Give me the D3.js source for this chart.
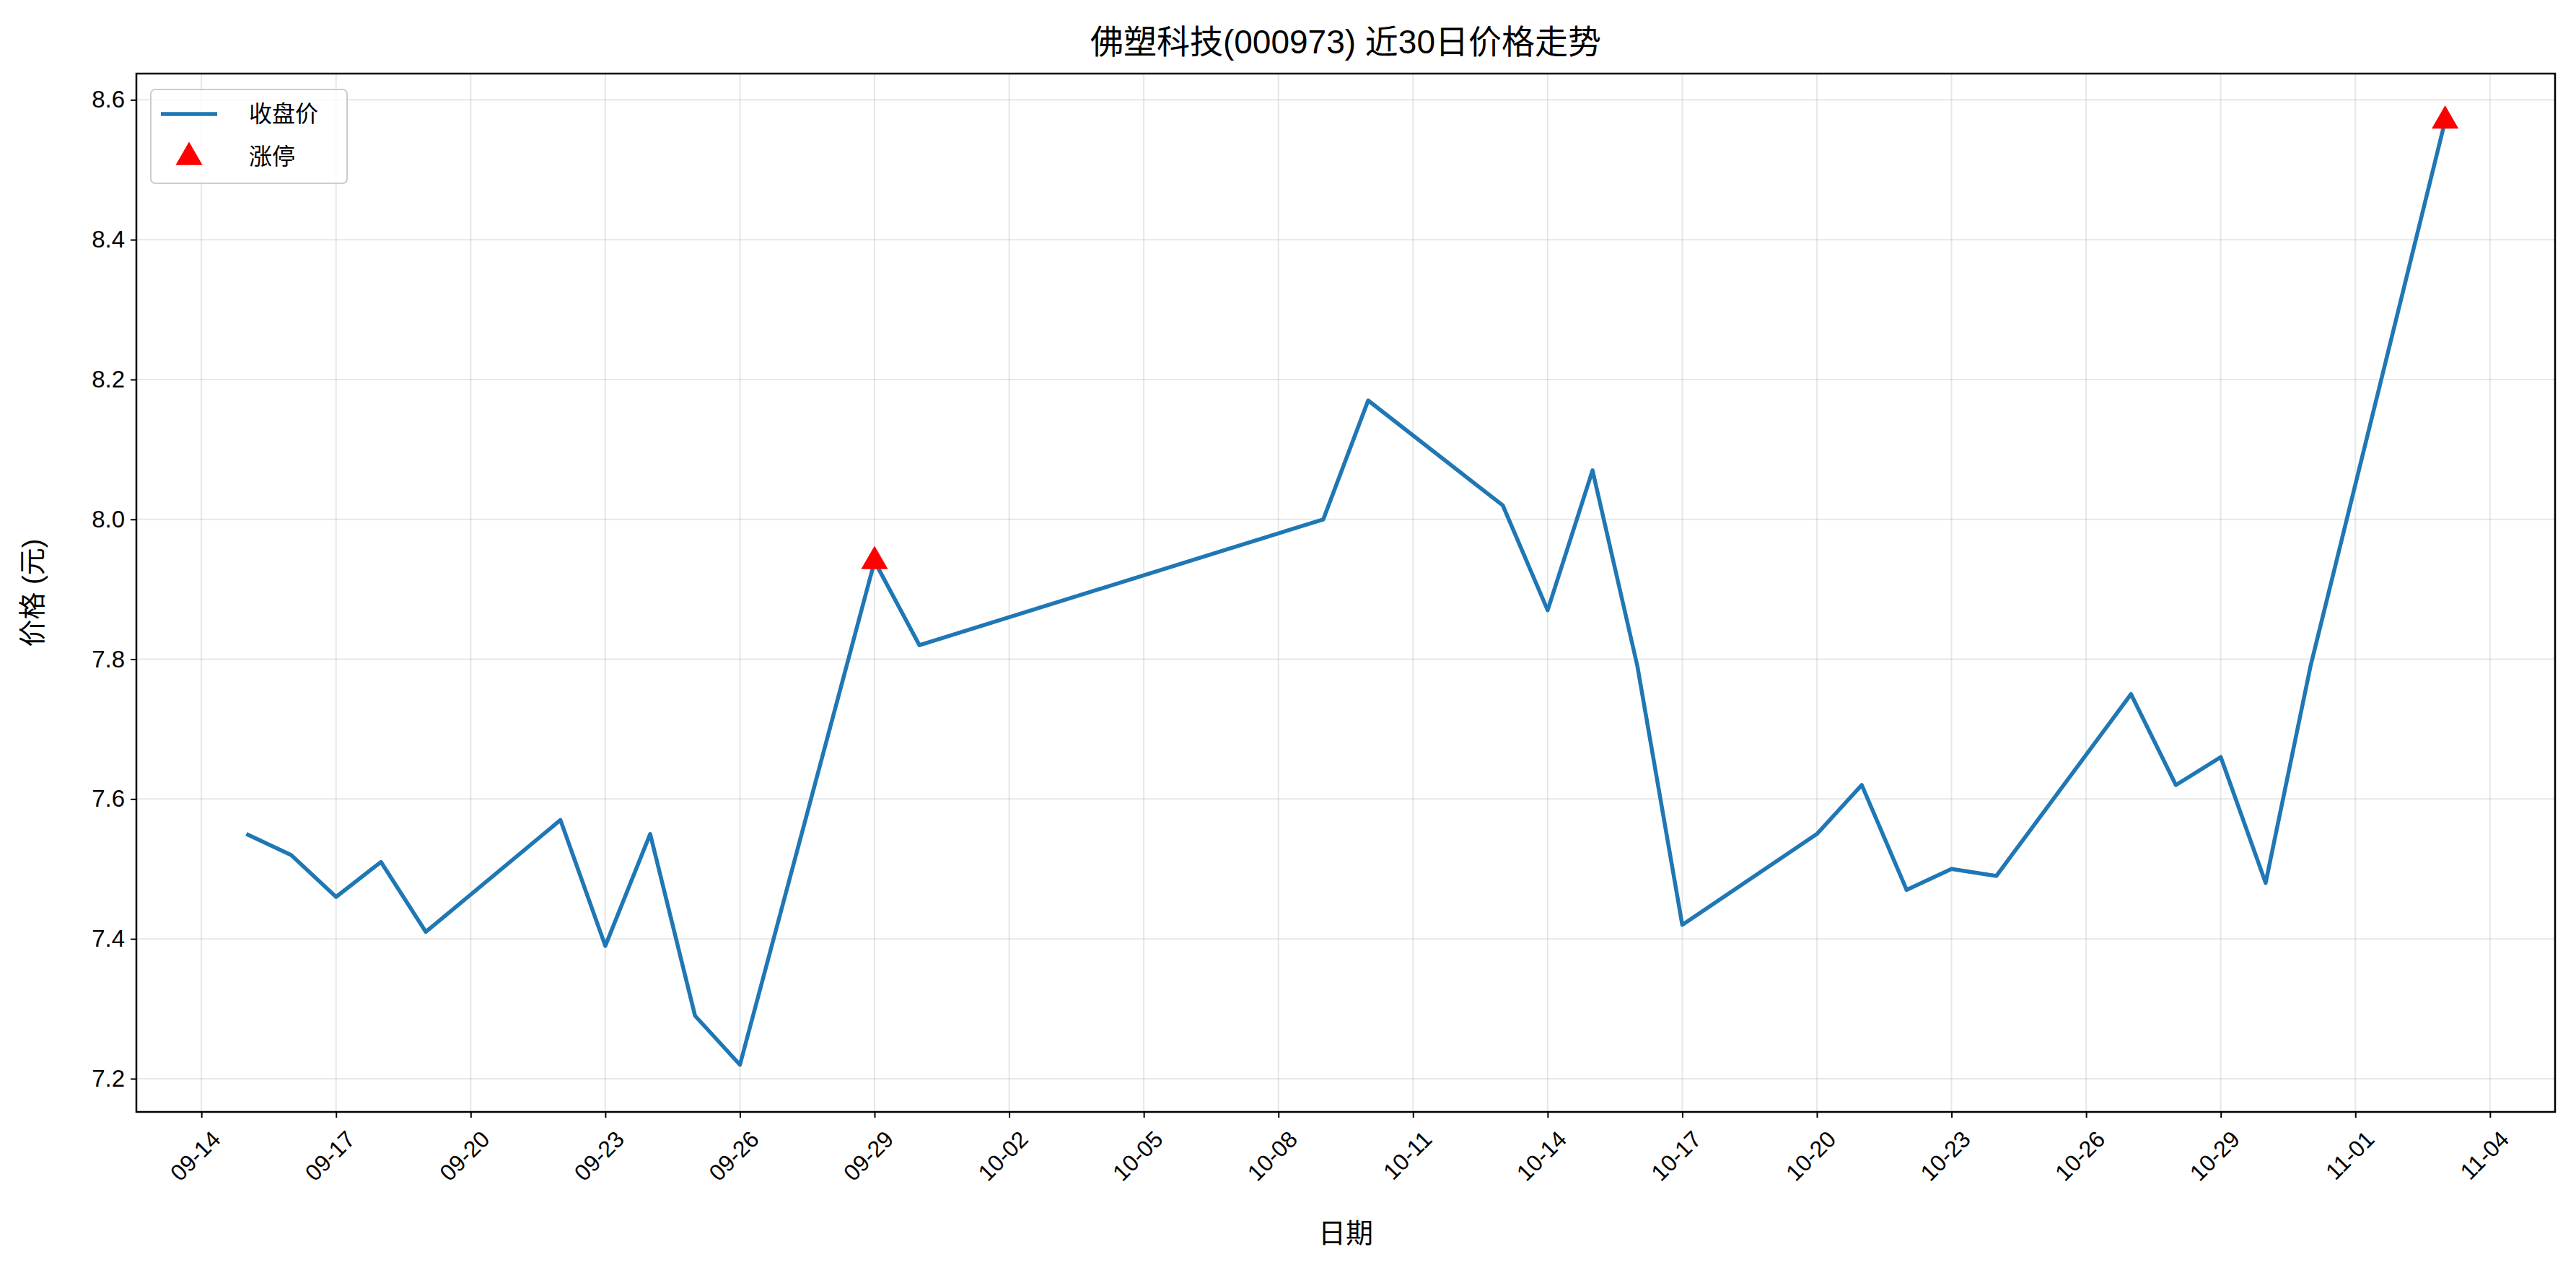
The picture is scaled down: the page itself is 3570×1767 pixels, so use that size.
<!DOCTYPE html>
<html><head><meta charset="utf-8">
<script src="https://cdn.jsdelivr.net/npm/d3@7"></script>
<style>body{margin:0;background:#fff}text{font-family:"Liberation Sans","Noto Sans CJK SC",sans-serif}</style>
</head><body><svg width="3570" height="1767"></svg>
<script>
const dates = ['2025-09-15','2025-09-16','2025-09-17','2025-09-18','2025-09-19','2025-09-22','2025-09-23','2025-09-24','2025-09-25','2025-09-26','2025-09-29','2025-09-30','2025-10-09','2025-10-10','2025-10-13','2025-10-14','2025-10-15','2025-10-16','2025-10-17','2025-10-20','2025-10-21','2025-10-22','2025-10-23','2025-10-24','2025-10-27','2025-10-28','2025-10-29','2025-10-30','2025-10-31','2025-11-03'];
const closes = [7.55,7.52,7.46,7.51,7.41,7.57,7.39,7.55,7.29,7.22,7.94,7.82,8.00,8.17,8.02,7.87,8.07,7.79,7.42,7.55,7.62,7.47,7.50,7.49,7.75,7.62,7.66,7.48,7.79,8.57];
const limitDates = ['2025-09-29','2025-11-03'];
const limitPrices = [7.94,8.57];
const yTicks = [7.2,7.4,7.6,7.8,8.0,8.2,8.4,8.6];

const svg = d3.select('svg');
const margin = {top:102, right:29, bottom:226, left:189};
const width = 3570, height = 1767;
const innerWidth = width - margin.left - margin.right;
const innerHeight = height - margin.top - margin.bottom;
const parse = d3.utcParse('%Y-%m-%d');
const data = dates.map((d,i) => ({date: parse(d), close: closes[i]}));
const limits = limitDates.map((d,i) => ({date: parse(d), close: limitPrices[i]}));

const x0 = data[0].date.getTime(), x1 = data[data.length-1].date.getTime();
const pad = (x1 - x0) * 0.05;
const xScale = d3.scaleUtc().domain([new Date(x0-pad), new Date(x1+pad)]).range([0, innerWidth]);
const yMin = d3.min(closes), yMax = d3.max(closes), yp = (yMax-yMin)*0.05;
const yScale = d3.scaleLinear().domain([yMin-yp, yMax+yp]).range([innerHeight, 0]);

const g = svg.append('g').attr('transform', `translate(${margin.left},${margin.top})`);
const xTickVals = d3.utcDay.range(parse('2025-09-14'), parse('2025-11-05'), 3);

// grid
g.append('g').selectAll('line').data(xTickVals).enter().append('line')
  .attr('x1', d => xScale(d)).attr('x2', d => xScale(d)).attr('y1', 0).attr('y2', innerHeight)
  .attr('stroke', '#b0b0b0').attr('stroke-opacity', 0.3).attr('stroke-width', 2);
g.append('g').selectAll('line').data(yTicks).enter().append('line')
  .attr('y1', d => yScale(d)).attr('y2', d => yScale(d)).attr('x1', 0).attr('x2', innerWidth)
  .attr('stroke', '#b0b0b0').attr('stroke-opacity', 0.3).attr('stroke-width', 2);

const xAxis = d3.axisBottom(xScale).tickValues(xTickVals).tickFormat(d3.utcFormat('%m-%d')).tickSize(8).tickPadding(6);
const xAxisG = g.append('g').attr('transform', `translate(0,${innerHeight})`).call(xAxis);
xAxisG.select('.domain').remove();
xAxisG.selectAll('line').attr('stroke-width', 2);
xAxisG.selectAll('text').attr('font-size', 32).attr('fill', '#000')
  .attr('text-anchor', 'end').attr('dy', '0.35em')
  .attr('transform', 'translate(10,22) rotate(-45)');

const yAxis = d3.axisLeft(yScale).tickValues(yTicks).tickFormat(d3.format('.1f')).tickSize(8).tickPadding(8);
const yAxisG = g.append('g').call(yAxis);
yAxisG.select('.domain').remove();
yAxisG.selectAll('line').attr('stroke-width', 2);
yAxisG.selectAll('text').attr('font-size', 33).attr('fill', '#000');

g.append('rect').attr('width', innerWidth).attr('height', innerHeight)
  .attr('fill', 'none').attr('stroke', '#000').attr('stroke-width', 2.5);

const line = d3.line().x(d => xScale(d.date)).y(d => yScale(d.close));
g.append('path').datum(data).attr('d', line).attr('fill', 'none')
  .attr('stroke', '#1f77b4').attr('stroke-width', 5.5).attr('stroke-linejoin', 'round');

const tri = d3.symbol().type(d3.symbolTriangle).size(600);
g.selectAll('.limit').data(limits).enter().append('path').attr('class', 'limit')
  .attr('d', tri).attr('fill', 'red')
  .attr('transform', d => `translate(${xScale(d.date)},${yScale(d.close)})`);

// title and labels
svg.append('text').attr('x', margin.left + innerWidth/2).attr('y', 74)
  .attr('text-anchor', 'middle').attr('font-size', 46).text('佛塑科技(000973) 近30日价格走势');
svg.append('text').attr('x', margin.left + innerWidth/2).attr('y', 1722)
  .attr('text-anchor', 'middle').attr('font-size', 38).text('日期');
svg.append('text').attr('transform', `translate(58,${margin.top + innerHeight/2}) rotate(-90)`)
  .attr('text-anchor', 'middle').attr('font-size', 38).text('价格 (元)');

// legend
const lg = g.append('g').attr('transform', 'translate(20,22)');
lg.append('rect').attr('width', 272).attr('height', 130).attr('rx', 6)
  .attr('fill', '#fff').attr('fill-opacity', 0.8).attr('stroke', '#ccc').attr('stroke-width', 2);
lg.append('line').attr('x1', 14).attr('x2', 92).attr('y1', 34).attr('y2', 34)
  .attr('stroke', '#1f77b4').attr('stroke-width', 5.5);
lg.append('text').attr('x', 136).attr('y', 45).attr('font-size', 32).text('收盘价');
lg.append('path').attr('d', tri).attr('fill', 'red').attr('transform', 'translate(53,94)');
lg.append('text').attr('x', 136).attr('y', 104).attr('font-size', 32).text('涨停');
</script></body></html>
